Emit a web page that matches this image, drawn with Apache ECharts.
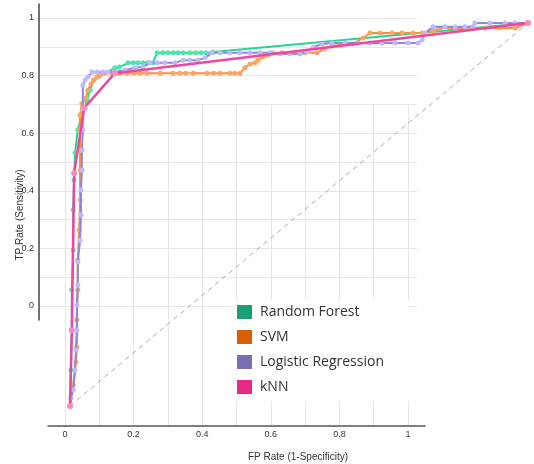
<!DOCTYPE html>
<html lang="en">
<head>
<meta charset="utf-8">
<script src="https://cdn.jsdelivr.net/npm/echarts@6/dist/echarts.min.js"></script>
<style>
  html, body { margin: 0; padding: 0; background: #fff; }
  #roc { width: 534px; height: 464px; }
</style>
</head>
<body>
<div id="roc"></div>
<script type="text/javascript">
    // ROC points, [FP rate, TP rate]
    var rfData = [[0,0],[0.002,0.094],[0.004,0.198],[0.004,0.303],[0.007,0.407],[0.007,0.512],[0.009,0.590],
        [0.011,0.661],[0.017,0.721],[0.026,0.760],[0.033,0.778],[0.037,0.799],[0.044,0.825],[0.052,0.851],
        [0.061,0.859],[0.098,0.883],[0.108,0.885],[0.127,0.896],[0.138,0.896],[0.148,0.896],[0.159,0.896],
        [0.170,0.896],[0.181,0.896],[0.190,0.922],[0.203,0.922],[0.214,0.922],[0.225,0.922],[0.236,0.922],
        [0.247,0.922],[0.262,0.922],[0.275,0.922],[0.286,0.922],[0.297,0.922],[0.312,0.924],[1,1]];

    var svmData = [[0,0],[0.007,0.055],[0.013,0.115],[0.015,0.154],[0.015,0.225],[0.017,0.303],[0.017,0.381],
        [0.020,0.460],[0.022,0.538],[0.022,0.616],[0.022,0.668],[0.022,0.721],[0.022,0.760],[0.026,0.789],
        [0.035,0.804],[0.039,0.825],[0.046,0.841],[0.052,0.851],[0.059,0.859],[0.066,0.864],[0.076,0.869],
        [0.092,0.869],[0.109,0.869],[0.124,0.869],[0.140,0.869],[0.153,0.869],[0.168,0.869],[0.197,0.869],
        [0.225,0.869],[0.240,0.869],[0.253,0.869],[0.269,0.869],[0.299,0.869],[0.314,0.869],[0.328,0.869],
        [0.349,0.869],[0.360,0.869],[0.371,0.869],[0.382,0.883],[0.393,0.893],[0.404,0.896],[0.410,0.903],
        [0.421,0.911],[0.432,0.916],[0.441,0.922],[0.463,0.922],[0.491,0.922],[0.513,0.922],[0.539,0.922],
        [0.555,0.932],[0.572,0.940],[0.594,0.943],[0.616,0.945],[0.640,0.961],[0.655,0.974],[0.677,0.974],
        [0.703,0.974],[0.725,0.974],[0.749,0.974],[0.769,0.974],[0.793,0.979],[0.808,0.987],[0.841,0.987],
        [0.873,0.987],[0.906,0.987],[0.939,0.987],[0.972,0.987],[1,1]];

    var lrData = [[0,0],[0.002,0.021],[0.007,0.042],[0.011,0.094],[0.013,0.146],[0.015,0.198],[0.015,0.264],
        [0.017,0.316],[0.017,0.376],[0.022,0.433],[0.024,0.499],[0.024,0.564],[0.026,0.616],[0.026,0.668],
        [0.028,0.721],[0.028,0.773],[0.028,0.838],[0.033,0.851],[0.039,0.859],[0.048,0.872],[0.059,0.872],
        [0.072,0.872],[0.083,0.872],[0.098,0.872],[0.120,0.877],[0.142,0.883],[0.159,0.885],[0.175,0.896],
        [0.190,0.896],[0.207,0.896],[0.229,0.896],[0.247,0.903],[0.262,0.903],[0.279,0.903],[0.295,0.909],
        [0.310,0.922],[0.328,0.922],[0.349,0.922],[0.371,0.922],[0.393,0.922],[0.415,0.922],[0.437,0.922],
        [0.459,0.919],[0.480,0.919],[0.502,0.919],[0.517,0.924],[0.531,0.937],[0.550,0.945],[0.572,0.948],
        [0.600,0.948],[0.629,0.948],[0.655,0.948],[0.681,0.948],[0.710,0.948],[0.738,0.948],[0.760,0.948],
        [0.769,0.956],[0.775,0.974],[0.793,0.990],[0.819,0.990],[0.841,0.990],[0.862,0.990],[0.880,0.990],
        [0.884,1],[0.917,1],[0.950,1],[0.972,1],[1,1]];

    var knnData = [[0,0],[0.004,0.198],[0.009,0.608],[0.031,0.778],[0.098,0.869],[1,1]];

    var diagData = [[0,0],[1,1]];

    var models = ['Random Forest', 'SVM', 'Logistic Regression', 'kNN'];
    var legendColors = ['#1b9e77', '#d95f02', '#7570b3', '#e7298a'];
    var lineColors = ['#24d691', '#f5903c', '#8e88d8', '#f0479e'];
    var dotColors = ['#4ee6ae', '#fca462', '#bdb8ff', '#f98bc3'];

    var chart = echarts.init(document.getElementById('roc'));

    function evenTenth(v) {
        var t = Math.round(v * 10);
        if (t % 2 !== 0) return '';
        return t === 0 ? '0' : (t === 10 ? '1' : (t / 10).toString());
    }

    var labelFont = { color: '#333', fontSize: 9, fontFamily: 'Liberation Sans' };
    var splitStyle = { show: true, lineStyle: { color: '#e6e6e6', width: 1 } };
    var off = { axisLine: { show: false }, axisTick: { show: false }, axisLabel: { show: false }, splitLine: { show: false } };

    function ax(grid, extra) {
        return Object.assign({ type: 'value', gridIndex: grid, min: 0, max: 1 }, off, extra || {});
    }

    var series = [{
        name: 'diag', type: 'line', xAxisIndex: 4, yAxisIndex: 4,
        data: diagData, symbol: 'none', silent: true,
        lineStyle: { color: '#aaaaaa', width: 1, type: [5, 4] }, z: 2
    }];
    var allData = [rfData, svmData, lrData, knnData];
    for (var i = 0; i < models.length; i++) {
        series.push({
            name: models[i], type: 'line', xAxisIndex: 4, yAxisIndex: 4,
            data: allData[i], symbol: 'circle', symbolSize: i === 3 ? 6 : 5,
            lineStyle: { color: lineColors[i], width: i === 3 ? 2.5 : 2 },
            itemStyle: { color: dotColors[i] },
            z: 3 + i
        });
    }

    var option = {
        animation: false,
        grid: [
            { left: 39, right: 117, top: 18, bottom: 158 },   // y labels + horizontal lines
            { left: 39, right: 117, top: 4, bottom: 144 },    // y axis line
            { left: 65, right: 126, top: 105, bottom: 38 },   // x labels + vertical lines
            { left: 48, right: 109, top: 105, bottom: 38 },   // x axis line
            { left: 70, right: 6, top: 23, bottom: 58 }       // curves
        ],
        xAxis: [
            ax(0),
            ax(1),
            ax(2, { interval: 0.1, splitLine: splitStyle,
                    axisLabel: Object.assign({ show: true, margin: 4, formatter: evenTenth }, labelFont) }),
            ax(3, { axisLine: { show: true, onZero: false, lineStyle: { color: '#555', width: 1.5 } } }),
            ax(4)
        ],
        yAxis: [
            ax(0, { interval: 0.1, splitLine: splitStyle,
                    axisLabel: Object.assign({ show: true, margin: 5, formatter: evenTenth }, labelFont) }),
            ax(1, { axisLine: { show: true, onZero: false, lineStyle: { color: '#444', width: 1.5 } } }),
            ax(2),
            ax(3),
            ax(4)
        ],
        legend: {
            orient: 'vertical', left: 233, top: 300,
            backgroundColor: '#fff', padding: [5, 25, 7, 4],
            itemWidth: 15, itemHeight: 14, itemGap: 11, icon: 'rect',
            textStyle: { fontFamily: 'Open Sans', fontSize: 14, color: '#333', padding: [0, 0, 0, 3] },
            data: models.map(function (m, k) {
                return { name: m, itemStyle: { color: legendColors[k] } };
            })
        },
        graphic: [
            { type: 'text', x: 298, y: 457,
              style: { text: 'FP Rate (1-Specificity)', align: 'center', verticalAlign: 'middle',
                       textAlign: 'center', textVerticalAlign: 'middle',
                       fill: '#333', font: '10px "Liberation Sans"' } },
            { type: 'text', x: 20, y: 215, rotation: Math.PI / 2,
              style: { text: 'TP Rate (Sensitivity)', align: 'center', verticalAlign: 'middle',
                       textAlign: 'center', textVerticalAlign: 'middle',
                       fill: '#333', font: '10px "Liberation Sans"' } }
        ],
        series: series
    };

    chart.setOption(option);
</script>
</body>
</html>
